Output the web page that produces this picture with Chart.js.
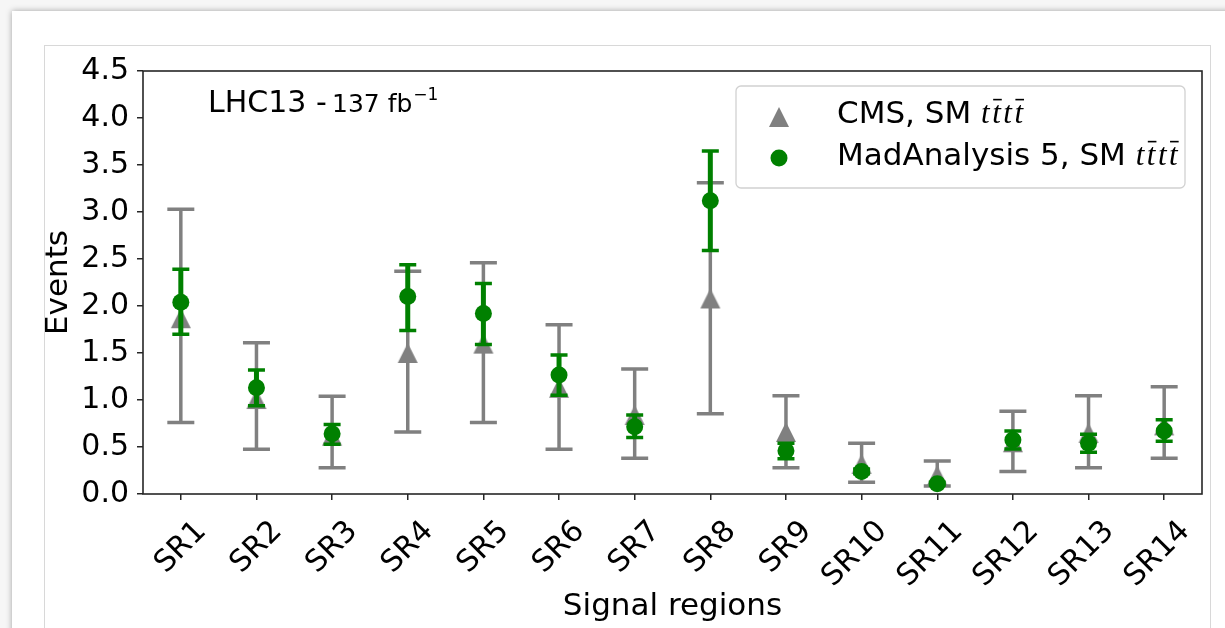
<!DOCTYPE html>
<html>
<head>
<meta charset="utf-8">
<script src="https://cdn.jsdelivr.net/npm/chart.js@4/dist/chart.umd.min.js"></script>
<style>
  html, body { margin: 0; padding: 0; }
  body { width: 1225px; height: 628px; overflow: hidden; background: #f6f6f6; position: relative; font-family: "DejaVu Sans", sans-serif; }
  #card { position: absolute; left: 12px; top: 11px; width: 1300px; height: 700px; background: #fff; box-shadow: 0 0 6px rgba(0,0,0,0.35); }
  #frame { position: absolute; left: 44px; top: 45px; width: 1165px; height: 700px; border: 1px solid #d8d8d8; background: #fff; }
  #chart { position: absolute; left: 0; top: 0; }
</style>
</head>
<body>
<div id="card"></div>
<div id="frame"></div>
<canvas id="chart" width="1225" height="628"></canvas>
<script>
// signal regions
const regions = ['SR1', 'SR2', 'SR3', 'SR4', 'SR5', 'SR6', 'SR7', 'SR8', 'SR9', 'SR10', 'SR11', 'SR12', 'SR13', 'SR14'];

// CMS, SM tttt (grey triangles)
const cmsEvents = [1.87, 1.01, 0.62, 1.50, 1.60, 1.13, 0.84, 2.08, 0.66, 0.32, 0.20, 0.55, 0.65, 0.73];
const cmsLow    = [0.76, 0.475, 0.28, 0.66, 0.76, 0.475, 0.38, 0.855, 0.28, 0.125, 0.085, 0.24, 0.28, 0.38];
const cmsHigh   = [3.03, 1.61, 1.04, 2.37, 2.46, 1.80, 1.33, 3.31, 1.045, 0.54, 0.35, 0.88, 1.045, 1.14];

// MadAnalysis 5, SM tttt (green dots)
const maEvents = [2.04, 1.13, 0.64, 2.10, 1.92, 1.265, 0.715, 3.12, 0.46, 0.24, 0.11, 0.575, 0.54, 0.67];
const maLow    = [1.70, 0.94, 0.53, 1.74, 1.59, 1.05, 0.60, 2.59, 0.375, 0.215, 0.095, 0.48, 0.445, 0.56];
const maHigh   = [2.39, 1.32, 0.74, 2.44, 2.24, 1.48, 0.84, 3.65, 0.54, 0.265, 0.125, 0.67, 0.635, 0.79];

const yTicks = [0, 0.5, 1, 1.5, 2, 2.5, 3, 3.5, 4, 4.5];

const GREY = '#808080';
const GREEN = '#008000';
const SPINE = '#262626';

// matplotlib style '^' marker (centred at mid height)
function triangleImg(size) {
  const c = document.createElement('canvas');
  c.width = size + 4; c.height = size + 4;
  const g = c.getContext('2d');
  g.fillStyle = GREY;
  g.beginPath();
  g.moveTo(c.width / 2, 2);
  g.lineTo(2, size + 2);
  g.lineTo(size + 2, size + 2);
  g.closePath();
  g.fill();
  return c;
}
const tri = triangleImg(20);

const errorBars = {
  id: 'errorBars',
  beforeDatasetDraw(chart, args) {
    const ds = chart.data.datasets[args.index];
    if (!ds.errLow) return;
    const ctx = chart.ctx;
    const y = chart.scales.y;
    ctx.save();
    ctx.strokeStyle = ds.errColor;
    args.meta.data.forEach((pt, i) => {
      const x = pt.x;
      const yl = y.getPixelForValue(ds.errLow[i]);
      const yh = y.getPixelForValue(ds.errHigh[i]);
      ctx.lineWidth = ds.errWidth;
      ctx.beginPath();
      ctx.moveTo(x, yl); ctx.lineTo(x, yh);
      ctx.stroke();
      ctx.lineWidth = ds.capThick;
      ctx.beginPath();
      ctx.moveTo(x - ds.capSize / 2, yl); ctx.lineTo(x + ds.capSize / 2, yl);
      ctx.moveTo(x - ds.capSize / 2, yh); ctx.lineTo(x + ds.capSize / 2, yh);
      ctx.stroke();
    });
    ctx.restore();
  }
};

function drawMath(ctx, x, baseline, size) {
  // t \bar{t} t \bar{t}
  ctx.font = 'italic ' + size + 'px "Liberation Serif", serif';
  let cx = x;
  for (let i = 0; i < 4; i++) {
    ctx.fillText('t', cx, baseline);
    const w = ctx.measureText('t').width;
    if (i % 2 === 1) {
      ctx.fillRect(cx + 1, baseline - size * 0.78, w, 1.6);
    }
    cx += w + 2.5;
  }
  return cx;
}

const decorations = {
  id: 'decorations',
  afterDatasetsDraw(chart) {
    const ctx = chart.ctx;
    const a = chart.chartArea;
    ctx.save();
    ctx.strokeStyle = SPINE;
    ctx.lineWidth = 1.6;
    ctx.strokeRect(a.left, a.top, a.right - a.left, a.bottom - a.top);

    // annotation
    ctx.fillStyle = '#000';
    ctx.textBaseline = 'alphabetic';
    ctx.font = '30px "DejaVu Sans"';
    ctx.fillText('LHC13 - ', a.left + 65, a.top + 41);
    ctx.font = '25px "DejaVu Sans"';
    ctx.fillText('137 fb', a.left + 189, a.top + 41);
    const fbw = ctx.measureText('137 fb').width;
    ctx.font = '17px "DejaVu Sans"';
    ctx.fillText('\u22121', a.left + 189 + fbw + 1, a.top + 29);

    // legend
    const bx = 736, by = 86, bw = 449, bh = 102;
    ctx.fillStyle = 'rgba(255,255,255,0.8)';
    ctx.strokeStyle = 'rgba(204,204,204,0.9)';
    ctx.lineWidth = 1.3;
    ctx.beginPath();
    ctx.roundRect(bx, by, bw, bh, 5);
    ctx.fill();
    ctx.stroke();

    ctx.drawImage(tri, 779 - tri.width / 2, 117 - tri.height / 2);
    ctx.fillStyle = GREEN;
    ctx.beginPath();
    ctx.arc(779, 158, 8.5, 0, Math.PI * 2);
    ctx.fill();

    ctx.fillStyle = '#000';
    ctx.font = '31px "DejaVu Sans"';
    ctx.fillText('CMS, SM ', 837, 123);
    let w1 = ctx.measureText('CMS, SM ').width;
    drawMath(ctx, 837 + w1, 123, 31);
    ctx.font = '31px "DejaVu Sans"';
    ctx.fillText('MadAnalysis 5, SM ', 837, 165);
    let w2 = ctx.measureText('MadAnalysis 5, SM ').width;
    drawMath(ctx, 837 + w2, 165, 31);
    ctx.restore();
  }
};

new Chart(document.getElementById('chart'), {
  type: 'line',
  data: {
    labels: regions,
    datasets: [
      {
        label: 'CMS, SM tt\u0304tt\u0304',
        data: cmsEvents,
        errLow: cmsLow, errHigh: cmsHigh,
        errColor: GREY, errWidth: 3.5, capThick: 3.5, capSize: 27,
        showLine: false,
        pointStyle: tri,
        pointRadius: 10,
        pointHoverRadius: 10,
        backgroundColor: GREY,
        borderColor: GREY,
        order: 2
      },
      {
        label: 'MadAnalysis 5, SM tt\u0304tt\u0304',
        data: maEvents,
        errLow: maLow, errHigh: maHigh,
        errColor: GREEN, errWidth: 5, capThick: 3.5, capSize: 17,
        showLine: false,
        pointStyle: 'circle',
        pointRadius: 8.5,
        pointHoverRadius: 8.5,
        pointBorderWidth: 0,
        backgroundColor: GREEN,
        borderColor: GREEN,
        order: 1
      }
    ]
  },
  options: {
    responsive: false,
    animation: false,
    devicePixelRatio: 1,
    layout: { padding: { left: 40, top: 71, right: 23, bottom: 2 } },
    plugins: {
      legend: { display: false },
      tooltip: { enabled: false }
    },
    scales: {
      x: {
        type: 'category',
        offset: true,
        afterFit: (s) => { s.height = 132; },
        border: { display: false },
        grid: { drawOnChartArea: false, drawTicks: true, tickLength: 6, offset: false, color: SPINE, lineWidth: 1.5 },
        ticks: { color: '#000', font: { family: 'DejaVu Sans', size: 30 }, minRotation: 45, maxRotation: 45, labelOffset: 21, padding: 14, autoSkip: false },
        title: { display: true, text: 'Signal regions', color: '#000', font: { family: 'DejaVu Sans', size: 31 }, padding: { top: 0, bottom: 0 } }
      },
      y: {
        min: 0,
        max: 4.5,
        afterFit: (s) => { s.width = 103; },
        afterBuildTicks: (s) => { s.ticks = yTicks.map(v => ({ value: v })); },
        border: { display: false },
        grid: { drawOnChartArea: false, drawTicks: true, tickLength: 6, color: SPINE, lineWidth: 1.5 },
        ticks: { color: '#000', font: { family: 'DejaVu Sans', size: 30 }, padding: 8, callback: (v) => Number(v).toFixed(1) },
        title: { display: true, text: 'Events', color: '#000', font: { family: 'DejaVu Sans', size: 31 }, padding: 0 }
      }
    }
  },
  plugins: [errorBars, decorations]
});
</script>
</body>
</html>
